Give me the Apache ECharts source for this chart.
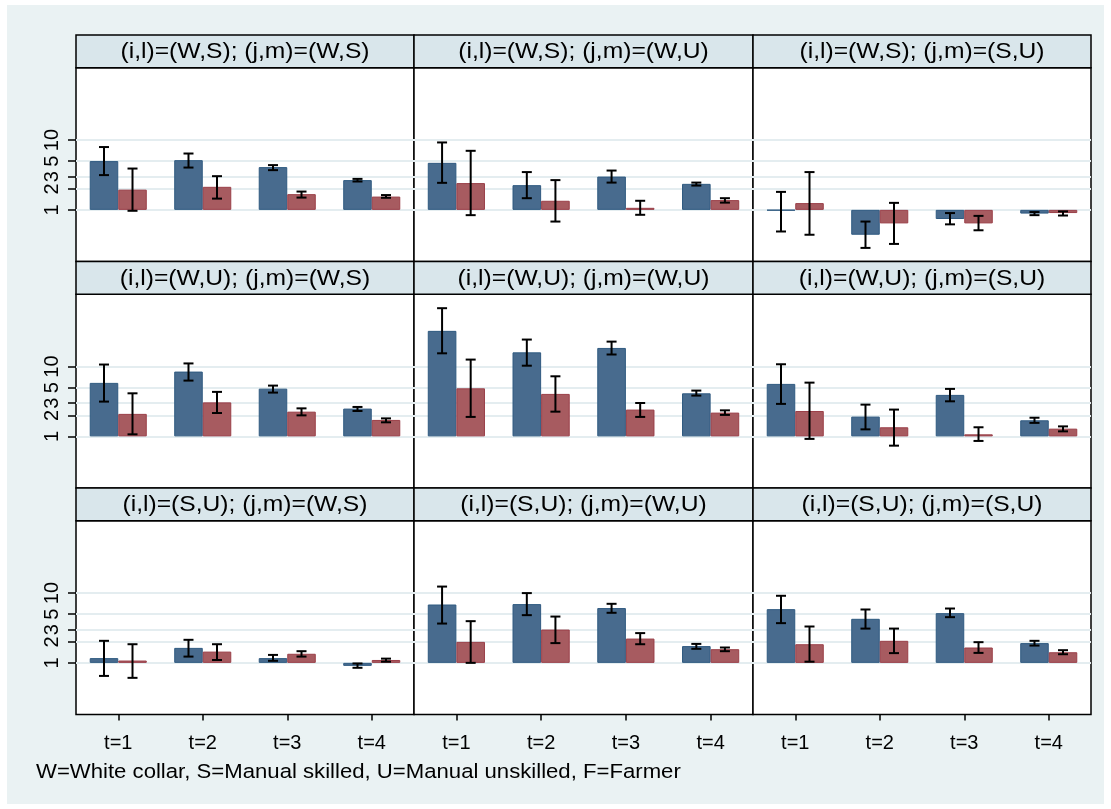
<!DOCTYPE html>
<html><head><meta charset="utf-8">
<script src="https://cdn.jsdelivr.net/npm/echarts@6/dist/echarts.min.js"></script>
<style>html,body{margin:0;padding:0;background:#fff}#c{width:1111px;height:809px}</style>
</head><body><div id="c"></div>
<script>
// ---------------- data ----------------
const categories = ['t=1', 't=2', 't=3', 't=4'];
const panelTitles = [
  '(i,l)=(W,S); (j,m)=(W,S)', '(i,l)=(W,S); (j,m)=(W,U)', '(i,l)=(W,S); (j,m)=(S,U)',
  '(i,l)=(W,U); (j,m)=(W,S)', '(i,l)=(W,U); (j,m)=(W,U)', '(i,l)=(W,U); (j,m)=(S,U)',
  '(i,l)=(S,U); (j,m)=(W,S)', '(i,l)=(S,U); (j,m)=(W,U)', '(i,l)=(S,U); (j,m)=(S,U)'
];
const yTicks = [1, 2, 3, 5, 10];
const footnote = 'W=White collar, S=Manual skilled, U=Manual unskilled, F=Farmer';

const blueValue = [
  [5.0, 5.16, 4.10, 2.67], [4.72, 2.26, 3.0, 2.36], [0.98, 0.44, 0.74, 0.885],
  [5.84, 8.48, 4.83, 2.5], [32.5, 16.0, 18.5, 4.14], [5.65, 1.92, 3.93, 1.70],
  [1.17, 1.64, 1.17, 0.906], [6.86, 6.95, 6.1, 1.74], [5.89, 4.28, 5.16, 1.92]
];
const blueLow = [
  [3.15, 4.04, 3.71, 2.55], [2.44, 1.47, 2.46, 2.23], [0.49, 0.285, 0.62, 0.84],
  [3.15, 6.3, 4.24, 2.31], [15.5, 10.3, 14.9, 3.84], [2.92, 1.26, 3.18, 1.56],
  [0.65, 1.23, 1.07, 0.85], [3.66, 4.83, 5.22, 1.59], [3.71, 3.10, 4.52, 1.77]
];
const blueHigh = [
  [7.95, 6.42, 4.38, 2.78], [9.25, 3.48, 3.66, 2.46], [1.81, 0.68, 0.90, 0.93],
  [10.7, 11.1, 5.34, 2.64], [68.7, 24.4, 22.8, 4.53], [10.8, 2.85, 4.79, 1.85],
  [2.07, 2.14, 1.30, 0.98], [12.4, 10.0, 7.02, 1.87], [9.15, 5.82, 6.01, 2.07]
];
const redValue = [
  [1.95, 2.14, 1.68, 1.55], [2.42, 1.35, 1.07, 1.38], [1.25, 0.64, 0.64, 0.90],
  [2.10, 3.07, 2.26, 1.72], [4.88, 4.06, 2.42, 2.19], [2.31, 1.35, 1.07, 1.29],
  [1.08, 1.45, 1.35, 1.10], [2.0, 3.0, 2.23, 1.57], [1.85, 2.07, 1.66, 1.42]
];
const redLow = [
  [0.97, 1.45, 1.50, 1.49], [0.84, 0.68, 0.85, 1.27], [0.44, 0.325, 0.51, 0.83],
  [1.07, 2.16, 2.0, 1.59], [1.90, 2.26, 1.90, 2.03], [0.92, 0.736, 0.86, 1.18],
  [0.61, 1.10, 1.23, 1.04], [1.0, 1.92, 1.85, 1.47], [1.04, 1.38, 1.39, 1.33]
];
const redHigh = [
  [3.91, 3.04, 1.83, 1.63], [7.02, 2.67, 1.35, 1.47], [3.48, 1.26, 0.82, 0.95],
  [4.14, 4.34, 2.52, 1.81], [12.6, 7.26, 3.01, 2.36], [5.89, 2.42, 1.35, 1.39],
  [1.85, 1.85, 1.47, 1.15], [3.96, 4.61, 2.67, 1.66], [3.32, 3.10, 1.98, 1.52]
];

// ---------------- layout / style ----------------
const FONT = 'Liberation Sans, Arial, Helvetica, sans-serif';
const colX = [76, 414, 753, 1091];
const TOP = 35, ROW_H = 226.5, HEAD_H = 32.7;
const Y_MIN = 0.182, Y_MAX = 109;
const GAP = 0.325;
const BLUE = '#486b8e', BLUE_B = '#2f5a80';
const RED = '#a75b60', RED_B = '#9a3f48';

function errRender(sign) {
  return function (params, api) {
    const x = api.value(0);
    const pLo = api.coord([x, api.value(1)]);
    const pHi = api.coord([x, api.value(2)]);
    const band = api.size([1, 1])[0];
    const barW = band * (1 - GAP) / 2;
    const cx = pLo[0] + sign * barW / 2;
    const cap = 5;
    const st = { stroke: '#000', lineWidth: 2 };
    return {
      type: 'group', children: [
        { type: 'line', shape: { x1: cx, y1: pHi[1], x2: cx, y2: pLo[1] }, style: st },
        { type: 'line', shape: { x1: cx - cap, y1: pHi[1], x2: cx + cap, y2: pHi[1] }, style: st },
        { type: 'line', shape: { x1: cx - cap, y1: pLo[1], x2: cx + cap, y2: pLo[1] }, style: st }
      ]
    };
  };
}

const grids = [], xAxes = [], yAxes = [], series = [];
const graphics = [
  { type: 'rect', z: -100, shape: { x: 7, y: 5, width: 1097, height: 799 }, style: { fill: '#eaf2f3' } }
];

for (let p = 0; p < 9; p++) {
  const r = Math.floor(p / 3), c = p % 3;
  const rowTop = TOP + r * ROW_H;
  const left = colX[c], width = colX[c + 1] - colX[c];
  const plotTop = rowTop + HEAD_H;
  const plotH = ROW_H - HEAD_H;
  grids.push({
    left: left, top: plotTop, width: width, height: plotH,
    show: true, backgroundColor: '#fff', borderColor: '#000', borderWidth: 1.5,
    containLabel: false, outerBoundsMode: 'none'
  });
  xAxes.push({
    gridIndex: p, type: 'category', data: categories,
    axisLine: { show: false },
    axisTick: { show: r === 2, alignWithLabel: true, length: 6, lineStyle: { color: '#000', width: 1.5 } },
    axisLabel: { show: r === 2, fontSize: 20, color: '#000', margin: 19, fontFamily: FONT },
    splitLine: { show: false }
  });
  yAxes.push({
    gridIndex: p, type: 'log', logBase: 10, min: Y_MIN, max: Y_MAX,
    axisLine: { show: false },
    axisTick: { show: c === 0, length: 8, customValues: yTicks, lineStyle: { color: '#000', width: 1.5 } },
    axisLabel: { show: c === 0, customValues: yTicks, rotate: 90, fontSize: 20, color: '#000', margin: 14, fontFamily: FONT, hideOverlap: false },
    splitLine: { show: true, lineStyle: { color: '#e4edf0', width: 2 } }
  });
  series.push({
    type: 'bar', xAxisIndex: p, yAxisIndex: p, data: blueValue[p],
    barGap: '0%', barCategoryGap: (GAP * 100) + '%',
    itemStyle: { color: BLUE, borderColor: BLUE_B, borderWidth: 1 }, silent: true
  });
  series.push({
    type: 'bar', xAxisIndex: p, yAxisIndex: p, data: redValue[p],
    barGap: '0%', barCategoryGap: (GAP * 100) + '%',
    itemStyle: { color: RED, borderColor: RED_B, borderWidth: 1 }, silent: true
  });
  series.push({
    type: 'custom', xAxisIndex: p, yAxisIndex: p, z: 5, silent: true,
    data: categories.map((_, k) => [k, blueLow[p][k], blueHigh[p][k]]),
    renderItem: errRender(-1), encode: { x: 0, y: [1, 2] }
  });
  series.push({
    type: 'custom', xAxisIndex: p, yAxisIndex: p, z: 5, silent: true,
    data: categories.map((_, k) => [k, redLow[p][k], redHigh[p][k]]),
    renderItem: errRender(1), encode: { x: 0, y: [1, 2] }
  });
  // panel header strip
  graphics.push({
    type: 'rect', z: 20,
    shape: { x: left, y: rowTop, width: width, height: HEAD_H },
    style: { fill: '#d9e6eb', stroke: '#000', lineWidth: 1.5 }
  });
  graphics.push({
    type: 'text', z: 21, x: left + width / 2, y: rowTop + HEAD_H / 2 + 1, scaleX: 1.12,
    style: { text: panelTitles[p], font: '22px ' + FONT, fill: '#000', textAlign: 'center', textVerticalAlign: 'middle' }
  });
}
graphics.push({
  type: 'text', z: 21, x: 36, y: 772, scaleX: 1.08,
  style: { text: footnote, font: '20.5px ' + FONT, fill: '#000', textAlign: 'left', textVerticalAlign: 'middle' }
});

const chart = echarts.init(document.getElementById('c'), null, { renderer: 'canvas' });
chart.setOption({
  animation: false,
  backgroundColor: '#ffffff',
  grid: grids, xAxis: xAxes, yAxis: yAxes, series: series,
  graphic: { elements: graphics }
});
</script>
</body></html>
